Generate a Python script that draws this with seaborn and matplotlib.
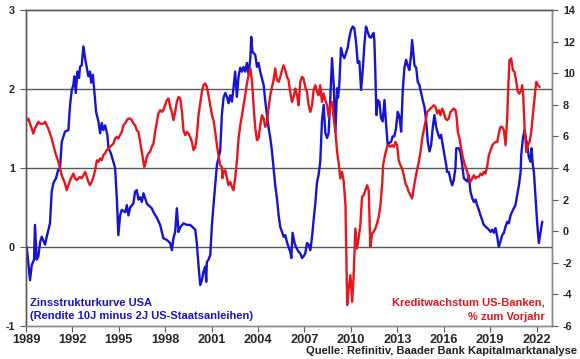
import matplotlib
matplotlib.use("Agg")
import matplotlib.pyplot as plt
import seaborn as sns
import pandas as pd

# ---------------- data ----------------
blue_year = [1989.05, 1989.26, 1989.37, 1989.52, 1989.58, 1989.69, 1989.80, 1989.91, 1990.02, 1990.23,
             1990.34, 1990.55, 1990.66, 1990.77, 1990.94, 1991.07, 1991.20, 1991.31, 1991.52, 1991.74,
             1991.85, 1991.96, 1992.06, 1992.13, 1992.22, 1992.32, 1992.43, 1992.49, 1992.60, 1992.71,
             1992.82, 1992.93, 1993.03, 1993.14, 1993.21, 1993.32, 1993.40, 1993.53, 1993.68, 1993.79,
             1993.90, 1994.00, 1994.11, 1994.26, 1994.33, 1994.48, 1994.76, 1994.87, 1994.97, 1995.08,
             1995.19, 1995.41, 1995.52, 1995.62, 1995.73, 1995.94, 1996.05, 1996.16, 1996.27, 1996.38,
             1996.49, 1996.59, 1996.70, 1996.81, 1996.91, 1997.13, 1997.24, 1997.46, 1997.67, 1997.78,
             1997.88, 1998.10, 1998.32, 1998.43, 1998.53, 1998.64, 1998.75, 1998.86, 1998.97, 1999.18,
             1999.40, 1999.61, 1999.83, 1999.94, 2000.05, 2000.15, 2000.26, 2000.37, 2000.47, 2000.58,
             2000.65, 2000.69, 2000.80, 2000.91, 2001.02, 2001.12, 2001.23, 2001.34, 2001.55, 2001.66,
             2001.77, 2001.88, 2001.99, 2002.09, 2002.20, 2002.31, 2002.41, 2002.52, 2002.63, 2002.74,
             2002.85, 2002.96, 2003.06, 2003.17, 2003.28, 2003.39, 2003.50, 2003.56, 2003.64, 2003.82,
             2003.93, 2004.03, 2004.14, 2004.36, 2004.47, 2004.58, 2004.68, 2004.79, 2004.90, 2005.00,
             2005.11, 2005.22, 2005.33, 2005.44, 2005.55, 2005.65, 2005.76, 2005.87, 2005.97, 2006.08,
             2006.15, 2006.23, 2006.36, 2006.45, 2006.62, 2006.73, 2006.84, 2006.94, 2007.05, 2007.16,
             2007.27, 2007.38, 2007.49, 2007.59, 2007.70, 2007.81, 2007.91, 2008.02, 2008.13, 2008.24,
             2008.35, 2008.46, 2008.56, 2008.67, 2008.78, 2008.89, 2009.00, 2009.11, 2009.17, 2009.25,
             2009.36, 2009.47, 2009.58, 2009.69, 2009.79, 2009.90, 2010.01, 2010.12, 2010.22, 2010.33,
             2010.44, 2010.55, 2010.66, 2010.76, 2010.87, 2010.98, 2011.09, 2011.20, 2011.31, 2011.37,
             2011.47, 2011.52, 2011.58, 2011.65, 2011.73, 2011.84, 2011.95, 2012.06, 2012.17, 2012.28,
             2012.38, 2012.49, 2012.60, 2012.70, 2012.81, 2012.92, 2013.03, 2013.14, 2013.25, 2013.35,
             2013.46, 2013.57, 2013.67, 2013.78, 2013.89, 2013.96, 2014.02, 2014.11, 2014.22, 2014.32,
             2014.43, 2014.54, 2014.64, 2014.75, 2014.86, 2014.97, 2015.08, 2015.19, 2015.29, 2015.40,
             2015.51, 2015.62, 2015.73, 2015.83, 2015.94, 2016.05, 2016.16, 2016.22, 2016.33, 2016.44,
             2016.55, 2016.65, 2016.76, 2016.81, 2016.97, 2017.08, 2017.19, 2017.30, 2017.52, 2017.62,
             2017.73, 2017.84, 2017.95, 2018.06, 2018.16, 2018.27, 2018.38, 2018.49, 2018.59, 2018.70,
             2018.81, 2018.92, 2019.03, 2019.14, 2019.24, 2019.35, 2019.46, 2019.56, 2019.67, 2019.78,
             2019.89, 2020.00, 2020.11, 2020.21, 2020.32, 2020.43, 2020.53, 2020.64, 2020.75, 2020.86,
             2020.97, 2021.01, 2021.12, 2021.23, 2021.29, 2021.40, 2021.50, 2021.61, 2021.68, 2021.76,
             2021.83, 2021.94, 2022.05, 2022.15, 2022.26, 2022.37]
blue_val = [0.00, -0.42, -0.23, -0.16, 0.28, -0.16, -0.12, 0.06, 0.13, 0.03,
            0.13, 0.30, 0.70, 0.81, 0.87, 0.97, 1.00, 1.33, 1.46, 1.48,
            1.80, 1.99, 2.05, 2.16, 1.95, 2.22, 2.14, 2.28, 2.30, 2.54,
            2.39, 2.27, 2.16, 2.22, 2.08, 2.18, 2.01, 1.71, 1.59, 1.44,
            1.57, 1.48, 1.54, 1.42, 1.25, 1.19, 1.00, 0.62, 0.15, 0.40,
            0.47, 0.44, 0.53, 0.40, 0.50, 0.55, 0.70, 0.72, 0.60, 0.63,
            0.57, 0.68, 0.62, 0.55, 0.53, 0.49, 0.44, 0.37, 0.28, 0.19,
            0.11, 0.09, 0.05, -0.04, 0.11, 0.19, 0.49, 0.19, 0.25, 0.30,
            0.28, 0.28, 0.24, 0.22, 0.03, -0.23, -0.48, -0.42, -0.31, -0.25,
            -0.44, -0.19, -0.16, -0.10, 0.28, 0.53, 0.78, 1.04, 1.21, 1.67,
            1.89, 1.95, 1.90, 1.82, 1.92, 1.84, 2.01, 2.22, 1.90, 2.16,
            2.27, 2.22, 2.28, 2.22, 2.33, 2.18, 2.39, 2.66, 2.47, 2.43,
            2.28, 2.33, 2.22, 2.05, 1.84, 1.67, 1.51, 1.38, 1.21, 1.00,
            0.78, 0.62, 0.40, 0.25, 0.19, 0.13, 0.15, 0.06, 0.00, -0.06,
            -0.14, 0.18, 0.05, 0.00, -0.06, -0.08, -0.14, -0.12, -0.08, 0.05,
            0.03, -0.04, 0.13, 0.34, 0.55, 0.82, 0.91, 1.08, 1.59, 1.80,
            1.44, 1.38, 1.44, 1.89, 2.39, 2.05, 1.46, 2.01, 1.89, 2.05,
            2.52, 2.43, 2.39, 2.46, 2.52, 2.65, 2.75, 2.79, 2.77, 2.60,
            2.33, 2.35, 1.99, 2.22, 2.56, 2.79, 2.72, 2.66, 2.65, 2.68,
            2.71, 2.60, 2.22, 1.67, 1.86, 1.84, 1.63, 1.59, 1.86, 1.54,
            1.29, 1.32, 1.33, 1.40, 1.40, 1.51, 1.71, 1.65, 1.46, 1.97,
            2.27, 2.37, 2.30, 2.24, 2.43, 2.62, 2.49, 2.30, 2.27, 2.09,
            2.05, 1.95, 1.86, 1.78, 1.61, 1.33, 1.21, 1.29, 1.51, 1.67,
            1.52, 1.44, 1.38, 1.42, 1.29, 1.16, 1.04, 0.95, 0.95, 0.85,
            0.78, 0.85, 1.00, 1.25, 1.25, 1.20, 1.05, 0.87, 0.83, 0.91,
            0.70, 0.62, 0.57, 0.60, 0.53, 0.47, 0.40, 0.34, 0.28, 0.26,
            0.24, 0.22, 0.19, 0.22, 0.18, 0.24, 0.13, 0.00, 0.07, 0.15,
            0.18, 0.26, 0.32, 0.30, 0.40, 0.45, 0.49, 0.53, 0.66, 0.78,
            0.95, 1.16, 1.38, 1.48, 1.40, 1.29, 1.14, 1.08, 1.25, 1.04,
            0.95, 0.62, 0.28, 0.05, 0.19, 0.32]

red_year = [1989.05, 1989.15, 1989.26, 1989.37, 1989.47, 1989.58, 1989.80, 1989.91, 1990.12, 1990.23,
            1990.34, 1990.44, 1990.55, 1990.66, 1990.77, 1990.88, 1990.99, 1991.09, 1991.20, 1991.31,
            1991.52, 1991.63, 1991.74, 1991.85, 1991.96, 1992.06, 1992.17, 1992.28, 1992.38, 1992.49,
            1992.60, 1992.71, 1992.82, 1992.93, 1993.03, 1993.14, 1993.25, 1993.36, 1993.47, 1993.58,
            1993.68, 1993.79, 1993.90, 1994.00, 1994.11, 1994.22, 1994.33, 1994.44, 1994.55, 1994.65,
            1994.76, 1994.87, 1994.97, 1995.08, 1995.19, 1995.30, 1995.41, 1995.52, 1995.62, 1995.73,
            1995.84, 1995.94, 1996.05, 1996.16, 1996.27, 1996.38, 1996.49, 1996.59, 1996.64, 1996.70,
            1996.81, 1996.91, 1997.02, 1997.13, 1997.24, 1997.35, 1997.46, 1997.56, 1997.67, 1997.78,
            1997.88, 1997.99, 1998.10, 1998.21, 1998.32, 1998.43, 1998.53, 1998.64, 1998.75, 1998.86,
            1998.97, 1999.08, 1999.18, 1999.29, 1999.40, 1999.50, 1999.61, 1999.72, 1999.83, 1999.94,
            2000.05, 2000.15, 2000.26, 2000.37, 2000.47, 2000.58, 2000.69, 2000.80, 2000.91, 2001.02,
            2001.12, 2001.23, 2001.34, 2001.44, 2001.55, 2001.66, 2001.70, 2001.77, 2001.88, 2001.99,
            2002.09, 2002.20, 2002.31, 2002.41, 2002.52, 2002.63, 2002.74, 2002.85, 2002.96, 2003.06,
            2003.17, 2003.28, 2003.39, 2003.50, 2003.61, 2003.71, 2003.82, 2003.93, 2004.03, 2004.14,
            2004.25, 2004.36, 2004.47, 2004.58, 2004.68, 2004.79, 2004.90, 2005.00, 2005.11, 2005.22,
            2005.33, 2005.44, 2005.55, 2005.65, 2005.76, 2005.87, 2005.97, 2006.08, 2006.19, 2006.30,
            2006.41, 2006.52, 2006.62, 2006.73, 2006.84, 2006.94, 2007.05, 2007.16, 2007.27, 2007.38,
            2007.49, 2007.59, 2007.70, 2007.81, 2007.91, 2008.02, 2008.13, 2008.24, 2008.35, 2008.46,
            2008.56, 2008.67, 2008.78, 2008.89, 2009.00, 2009.11, 2009.21, 2009.32, 2009.43, 2009.54,
            2009.65, 2009.69, 2009.76, 2009.86, 2009.97, 2010.08, 2010.18, 2010.29, 2010.40, 2010.50,
            2010.61, 2010.72, 2010.83, 2010.94, 2011.05, 2011.15, 2011.26, 2011.37, 2011.47, 2011.58,
            2011.69, 2011.80, 2011.91, 2012.02, 2012.08, 2012.12, 2012.23, 2012.34, 2012.44, 2012.55,
            2012.66, 2012.77, 2012.88, 2012.99, 2013.09, 2013.20, 2013.31, 2013.42, 2013.53, 2013.64,
            2013.74, 2013.85, 2013.96, 2014.06, 2014.17, 2014.28, 2014.39, 2014.50, 2014.61, 2014.71,
            2014.82, 2014.93, 2015.04, 2015.14, 2015.25, 2015.36, 2015.47, 2015.58, 2015.68, 2015.79,
            2015.90, 2016.00, 2016.11, 2016.22, 2016.33, 2016.44, 2016.55, 2016.65, 2016.76, 2016.83,
            2016.91, 2017.02, 2017.13, 2017.23, 2017.34, 2017.45, 2017.52, 2017.62, 2017.73, 2017.84,
            2017.95, 2018.06, 2018.16, 2018.27, 2018.38, 2018.49, 2018.59, 2018.70, 2018.81, 2018.92,
            2019.03, 2019.14, 2019.24, 2019.35, 2019.46, 2019.56, 2019.67, 2019.78, 2019.89, 2020.00,
            2020.11, 2020.17, 2020.25, 2020.36, 2020.47, 2020.58, 2020.69, 2020.79, 2020.90, 2021.01,
            2021.07, 2021.14, 2021.23, 2021.34, 2021.44, 2021.55, 2021.66, 2021.76, 2021.87, 2021.98,
            2022.09, 2022.20]
red_val = [7.00, 7.13, 6.80, 6.50, 6.18, 6.50, 6.92, 6.80, 6.80, 6.92,
           6.70, 6.50, 6.18, 5.87, 5.44, 5.02, 4.70, 4.39, 3.97, 3.54,
           3.02, 2.59, 2.91, 3.23, 3.44, 3.65, 3.34, 3.23, 3.34, 3.44,
           3.34, 3.54, 3.75, 3.44, 3.12, 2.91, 3.12, 3.44, 3.86, 4.49,
           4.39, 4.60, 4.49, 4.81, 4.92, 5.13, 5.23, 5.34, 5.44, 5.55,
           5.87, 5.97, 5.87, 6.08, 6.29, 6.71, 6.82, 7.03, 7.13, 7.13,
           7.03, 6.82, 6.71, 6.39, 6.29, 5.65, 5.02, 4.39, 4.07, 4.18,
           4.70, 4.92, 5.02, 5.34, 5.55, 6.29, 6.92, 7.45, 7.66, 7.55,
           7.66, 7.97, 8.29, 8.40, 7.87, 7.55, 7.03, 7.55, 8.18, 8.50,
           8.40, 7.55, 6.39, 6.08, 6.29, 6.18, 5.97, 5.65, 5.13, 5.30,
           6.10, 7.34, 8.10, 8.82, 9.24, 9.35, 9.13, 8.60, 7.97, 7.34,
           7.03, 6.29, 5.44, 4.81, 4.18, 4.07, 3.35, 3.75, 3.86, 3.34,
           2.91, 3.12, 2.80, 2.59, 3.34, 4.40, 5.87, 6.71, 7.34, 7.97,
           8.60, 9.35, 9.87, 10.30, 9.45, 7.97, 6.50, 5.76, 5.87, 6.71,
           7.34, 7.13, 6.60, 6.92, 7.76, 8.60, 9.13, 9.56, 10.30, 9.56,
           9.45, 9.77, 10.19, 10.50, 10.19, 9.77, 9.56, 8.82, 8.18, 8.50,
           9.03, 8.60, 7.97, 9.45, 9.77, 9.66, 9.13, 8.82, 7.97, 7.55,
           7.97, 8.92, 9.24, 8.82, 8.60, 9.24, 8.18, 8.71, 8.29, 7.97,
           7.24, 7.97, 8.18, 7.13, 6.29, 5.02, 4.30, 3.34, 3.75, 3.12,
           1.65, -0.68, -4.68, -3.63, -2.78, -4.47, -2.78, 0.17, -1.10, -0.46,
           0.38, 2.17, 2.28, 2.59, 2.91, 2.59, -1.00, -0.15, -0.04, 0.17,
           0.49, 0.91, 1.65, 2.91, 4.18, 4.39, 4.92, 5.34, 5.44, 5.34,
           5.44, 5.34, 5.65, 5.44, 4.49, 4.18, 3.97, 3.54, 3.02, 2.80,
           2.49, 2.28, 2.07, 2.70, 3.34, 3.90, 4.39, 5.02, 5.87, 6.39,
           6.92, 7.55, 7.66, 7.76, 7.87, 7.97, 7.87, 7.45, 7.66, 7.34,
           7.76, 7.55, 7.13, 7.03, 7.13, 7.55, 7.66, 7.76, 7.66, 7.24,
           6.29, 5.87, 5.23, 4.70, 4.28, 3.97, 3.76, 3.34, 3.12, 3.34,
           3.54, 3.34, 3.44, 3.44, 3.65, 3.54, 3.75, 3.65, 4.10, 4.81,
           5.13, 5.44, 5.55, 5.65, 5.65, 6.18, 6.60, 6.60, 6.39, 5.44,
           7.34, 9.03, 10.82, 10.93, 10.19, 10.08, 9.45, 8.82, 8.71, 8.92,
           9.24, 8.60, 6.50, 5.02, 5.44, 5.65, 6.29, 7.34, 8.40, 9.45,
           9.24, 9.13]

left_ticks = [-1, 0, 1, 2, 3]
right_ticks = [-6, -4, -2, 0, 2, 4, 6, 8, 10, 12, 14]
year_ticks = [1989, 1992, 1995, 1998, 2001, 2004, 2007, 2010, 2013, 2016, 2019, 2022]

blue_label = ["Zinsstrukturkurve USA", "(Rendite 10J minus 2J US-Staatsanleihen)"]
red_label = ["Kreditwachstum US-Banken,", "% zum Vorjahr"]
source = "Quelle: Refinitiv, Baader Bank Kapitalmarktanalyse"

# ---------------- style ----------------
sns.set_style("white")
plt.rcParams["font.family"] = ["Liberation Sans", "DejaVu Sans"]
plt.rcParams["font.weight"] = "bold"

BLUE = "#1414d2"
RED = "#e8161c"
GRID = "#5a5a5a"

df_b = pd.DataFrame({"year": blue_year, "val": blue_val})
df_r = pd.DataFrame({"year": red_year, "val": red_val})

fig = plt.figure(figsize=(5.8, 3.59), dpi=100)
ax = fig.add_axes([26 / 580, 1 - 326 / 359, (552 - 26) / 580, (326 - 10) / 359])
ax2 = ax.twinx()

sns.lineplot(data=df_b, x="year", y="val", ax=ax, color=BLUE, linewidth=1.7,
             estimator=None, sort=False)
sns.lineplot(data=df_r, x="year", y="val", ax=ax2, color=RED, linewidth=1.7,
             estimator=None, sort=False)

ax.set_xlim(1989, 2023)
ax.set_ylim(-1, 3)
ax2.set_ylim(-6, 14)
ax.set_xlabel("")
ax.set_ylabel("")
ax2.set_ylabel("")

ax.set_yticks(left_ticks)
ax.set_yticklabels([str(t) for t in left_ticks])
ax2.set_yticks(right_ticks)
ax2.set_yticklabels([str(t) for t in right_ticks])
ax.set_xticks(year_ticks)
ax.set_xticklabels([str(t) for t in year_ticks])

for t in [0, 1, 2]:
    ax.axhline(t, color=GRID, linewidth=1.0, zorder=0.5)

ax.tick_params(axis="y", direction="out", length=4, width=0.8, color=GRID,
               labelsize=7.8, pad=4, left=True)
ax2.tick_params(axis="y", direction="out", length=4, width=0.8, color=GRID,
                labelsize=7.8, pad=4, right=True)
ax.tick_params(axis="x", direction="out", length=4, width=0.8, color=GRID,
               labelsize=9.2, pad=2, bottom=True)
for lab in ax.get_xticklabels() + ax.get_yticklabels() + ax2.get_yticklabels():
    lab.set_fontweight("bold")

for a in (ax, ax2):
    for side in ["left", "right", "top", "bottom"]:
        a.spines[side].set_visible(True)
        a.spines[side].set_color(GRID)
        a.spines[side].set_linewidth(1.0)
ax2.spines["right"].set_color("#8a8a8a")
ax.spines["bottom"].set_color("#8a8a8a")
ax2.spines["bottom"].set_color("#8a8a8a")
ax.grid(False)
ax2.grid(False)

ax.text(0.008, 0.073, blue_label[0], transform=ax.transAxes, color=BLUE,
        fontsize=8, fontweight="bold", ha="left", va="center")
ax.text(0.008, 0.032, blue_label[1], transform=ax.transAxes, color=BLUE,
        fontsize=8, fontweight="bold", ha="left", va="center")
ax.text(0.987, 0.073, red_label[0], transform=ax.transAxes, color=RED,
        fontsize=8, fontweight="bold", ha="right", va="center")
ax.text(0.987, 0.028, red_label[1], transform=ax.transAxes, color=RED,
        fontsize=8, fontweight="bold", ha="right", va="center")
fig.text(0.995, 0.022, source, color="#222222", fontsize=8, fontweight="bold",
         ha="right", va="center")

fig.savefig("out.png", dpi=100)
